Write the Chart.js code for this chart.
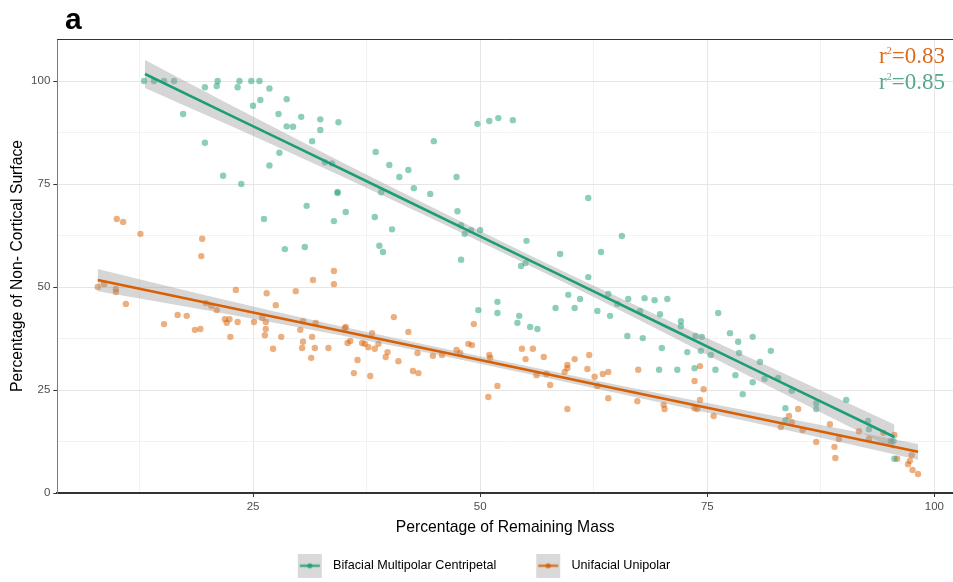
<!DOCTYPE html>
<html>
<head>
<meta charset="utf-8">
<script src="https://cdn.jsdelivr.net/npm/chart.js"></script>
<style>
  html, body { margin: 0; padding: 0; background: #fff; }
  #wrap { width: 953px; height: 582px; }
</style>
</head>
<body>
<div id="wrap"><canvas id="canvas"></canvas></div>
<script>
let bifacialX = [13.0, 14.1, 15.2, 16.3, 17.3, 19.7, 19.7, 21.0, 21.1, 21.7, 23.3, 23.5, 23.7, 24.8, 25.7, 25.0, 25.8, 26.8, 27.8, 28.7,
    28.7, 29.4, 30.3, 31.5, 27.9, 26.8, 32.4, 32.4, 34.4, 32.9, 33.7, 34.3, 34.3, 38.5, 40.0, 41.1, 42.1, 42.7, 44.5, 44.9,
    47.4, 49.7, 51.0, 52.0, 53.6, 61.9, 39.1, 30.9, 35.2, 33.9, 30.7, 38.4, 40.3, 38.9, 39.3, 47.5, 47.9, 48.3, 49.0, 50.0,
    47.9, 55.1, 54.5, 55.0, 58.8, 63.3, 61.9, 65.6, 64.1, 66.3, 65.1, 59.7, 61.0, 58.3, 60.4, 62.9, 64.3, 66.2, 49.8, 51.9,
    51.9, 54.3, 54.1, 55.5, 56.3, 68.1, 69.2, 70.6, 67.6, 69.8, 72.1, 72.1, 67.9, 70.0, 72.8, 73.7, 74.4, 74.3, 75.4, 76.2,
    77.5, 78.4, 78.5, 80.0, 82.0, 80.8, 69.7, 71.7, 73.6, 75.9, 78.1, 80.0, 81.3, 82.8, 78.9, 84.3, 83.6, 83.6, 87.0, 87.0,
    90.3, 92.7, 92.8, 95.2, 95.5, 95.6, 26.2, 28.5];
let bifacialY = [100, 100, 100, 100, 92, 85, 98.5, 98.8, 100, 77, 98.5, 100, 75, 100, 100, 94, 95.4, 98.2, 92, 95.6,
    89, 88.9, 91.3, 85.4, 82.6, 79.5, 90.7, 88.1, 90, 80.3, 80, 72.8, 73.1, 82.8, 79.6, 76.7, 78.4, 74, 72.6, 85.4,
    76.7, 89.6, 90.3, 91, 90.5, 71.6, 73, 69.7, 68.2, 66, 59.7, 67, 64, 60, 58.5, 68.4, 65, 62.9, 63.8, 63.8,
    56.6, 61.2, 55.1, 55.8, 58, 58.5, 52.4, 62.4, 48.3, 47.1, 45.9, 48.1, 47.1, 44.9, 44.9, 44.2, 43, 38.1, 44.4, 46.4,
    43.7, 43, 41.3, 40.3, 39.8, 47.3, 46.8, 47.1, 44.2, 43.4, 41.7, 40.5, 37.6, 35.2, 34.2, 38.1, 37.9, 34.5, 33.5, 43.7,
    38.8, 36.7, 34, 37.9, 34.5, 31.8, 29.9, 29.9, 30.3, 29.9, 28.6, 26.9, 27.7, 27.9, 24, 24.8, 20.6, 17.7, 21.8, 20.4,
    22.6, 17.5, 15.5, 12.6, 12.6, 8.3, 66.5, 59.2];

let unifacialX = [7.9, 8.6, 9.9, 9.9, 10.0, 10.7, 11.0, 12.6, 15.2, 16.7, 17.7, 18.6, 19.2, 19.4, 19.3, 19.8, 20.4, 21.0, 21.9, 22.4,
    22.1, 23.1, 23.3, 22.5, 25.1, 26.0, 26.4, 26.4, 26.3, 26.5, 27.5, 28.1, 27.2, 29.7, 30.2, 30.5, 30.5, 30.4, 31.5, 31.8,
    31.4, 31.6, 31.9, 33.3, 35.1, 35.2, 35.4, 35.7, 36.5, 36.1, 37.0, 37.3, 37.7, 38.1, 38.8, 38.4, 37.9, 39.8, 39.6, 41.0,
    40.5, 42.1, 42.6, 43.2, 43.1, 44.8, 45.8, 47.4, 47.8, 48.7, 49.1, 51.0, 51.1, 50.9, 51.9, 54.6, 55.8, 55.0, 57.0, 56.2,
    57.3, 57.7, 59.3, 59.6, 59.6, 60.4, 59.6, 62.0, 61.8, 62.6, 62.9, 63.5, 64.1, 64.1, 33.9, 33.9, 49.3, 67.4, 67.3, 70.2,
    70.3, 74.2, 73.6, 74.6, 74.2, 73.6, 73.9, 75.7, 83.1, 84.0, 84.3, 85.0, 85.5, 87.0, 88.5, 89.0, 89.1, 89.5, 91.7, 92.8,
    94.4, 95.6, 95.9, 97.1, 97.3, 97.5, 97.6, 98.2];
let unifacialY = [50, 50.7, 49.5, 48.8, 66.5, 65.8, 45.9, 62.9, 41, 43.2, 43, 39.6, 39.8, 61.7, 57.5, 46.1, 45.4, 44.4, 42.2, 42.2,
    41.3, 49.3, 41.5, 37.9, 41.5, 42.5, 41.5, 39.8, 38.3, 48.5, 45.6, 37.9, 35, 49, 39.6, 41.7, 36.7, 35.2, 37.9, 35.2,
    32.8, 51.7, 41.3, 35.2, 40, 40.3, 36.4, 36.9, 32.3, 29.1, 36.4, 36.2, 35.4, 38.8, 36.2, 35, 28.4, 34.2, 33, 32,
    42.7, 39.1, 29.6, 29.1, 34, 33.3, 33.5, 34.7, 34, 36.2, 35.9, 33.5, 32.8, 23.3, 26, 35, 35, 32.5, 33, 28.6,
    28.9, 26.2, 29.4, 31.1, 30.3, 32.5, 20.4, 33.5, 30.1, 28.2, 26, 28.9, 29.4, 23, 53.9, 50.7, 41, 29.9, 22.3, 21.4,
    20.4, 30.8, 27.2, 25.2, 22.6, 20.6, 20.4, 18.7, 16, 18.7, 17.2, 20.4, 15.3, 12.4, 16.7, 11.2, 8.5, 13.1, 15, 13.1,
    14.6, 14.1, 8.3, 7, 7.8, 9.2, 5.6, 4.6];

let bifacialFitX = [13.1, 22, 30, 40, 50, 60, 70, 80, 95.6];
let bifacialFit = [101.7, 92.2, 83.7, 73.0, 62.3, 51.6, 40.9, 30.2, 13.6];
let bifacialLow = [98.3, 89.6, 81.7, 71.5, 61.0, 50.3, 39.2, 27.9, 10.6];
let bifacialHigh = [105.1, 94.8, 85.7, 74.5, 63.6, 52.9, 42.6, 32.5, 16.6];

let unifacialFitX = [7.9, 20, 35, 50, 65, 80, 98.2];
let unifacialFit = [51.7, 46.1, 39.2, 32.3, 25.3, 18.4, 10.0];
let unifacialLow = [49.0, 44.3, 38.1, 31.4, 24.3, 17.1, 8.1];
let unifacialHigh = [54.4, 47.9, 40.3, 33.2, 26.3, 19.7, 11.9];

let seriesNames = ["Bifacial Multipolar Centripetal", "Unifacial Unipolar"];
let r2Values = ["0.85", "0.83"];
let xTicks = [25, 50, 75, 100];
let yTicks = [0, 25, 50, 75, 100];

let green = "#1B9E77";
let orange = "#D95F02";
let bandColor = "rgba(153,153,153,0.4)";

function pts(xs, ys) {
    return xs.map((x, i) => ({x: x, y: ys[i]}));
}

function legendKey(color) {
    let c = document.createElement("canvas");
    c.width = 44;
    c.height = 24;
    let g = c.getContext("2d");
    g.fillStyle = "#d9d9d9";
    g.fillRect(15, 0, 24, 24);
    g.globalAlpha = 0.8;
    g.strokeStyle = color;
    g.lineWidth = 2.5;
    g.beginPath();
    g.moveTo(17, 12);
    g.lineTo(37, 12);
    g.stroke();
    g.fillStyle = color;
    g.beginPath();
    g.arc(27, 12, 2.6, 0, Math.PI * 2);
    g.fill();
    return c;
}

function drawR2(ctx, value, right, baseline, color) {
    ctx.fillStyle = color;
    ctx.textAlign = "left";
    ctx.textBaseline = "alphabetic";
    let big = '23px "Liberation Serif", "Times New Roman", serif';
    let small = '10px "Liberation Serif", "Times New Roman", serif';
    ctx.font = big;
    let rest = "=" + value;
    let wRest = ctx.measureText(rest).width;
    let wR = ctx.measureText("r").width;
    ctx.font = small;
    let w2 = ctx.measureText("2").width;
    let x0 = right - wRest - w2 - wR;
    ctx.font = big;
    ctx.fillText("r", x0, baseline);
    ctx.font = small;
    ctx.fillText("2", x0 + wR, baseline - 9);
    ctx.font = big;
    ctx.fillText(rest, x0 + wR + w2, baseline);
}

let annotate = {
    id: "annotate",
    afterDraw(chart) {
        let ctx = chart.ctx;
        let a = chart.chartArea;
        ctx.save();
        ctx.strokeStyle = "#333333";
        ctx.lineWidth = 1;
        ctx.beginPath();
        ctx.moveTo(a.left, a.top + 0.5);
        ctx.lineTo(a.right, a.top + 0.5);
        ctx.stroke();
        ctx.fillStyle = "#000";
        ctx.font = 'bold 30px "Liberation Sans", Arial, sans-serif';
        ctx.textAlign = "left";
        ctx.textBaseline = "alphabetic";
        ctx.fillText("a", 65, 29);
        drawR2(ctx, r2Values[1], 945, 63, "#dd6a1e");
        drawR2(ctx, r2Values[0], 945, 89, "#58a68b");
        ctx.restore();
    }
};

Chart.defaults.font.family = '"Liberation Sans", Arial, sans-serif';
Chart.defaults.color = "#4d4d4d";

let gridColor = (c) => (c.tick && c.tick.value % 25 === 0) ? "#e6e6e6" : "#f2f2f2";
let tickColor = (c) => (c.tick && c.tick.value % 25 === 0) ? "#333333" : "rgba(0,0,0,0)";

let marksCanvas = document.getElementById("canvas");

let chart = new Chart(marksCanvas, {
    type: "line",
    data: {
        datasets: [{
            label: seriesNames[0] + " fit",
            data: pts(bifacialFitX, bifacialFit),
            borderColor: green,
            borderWidth: 2.6,
            pointRadius: 0,
            fill: false,
            order: 0
        }, {
            label: seriesNames[1] + " fit",
            data: pts(unifacialFitX, unifacialFit),
            borderColor: orange,
            borderWidth: 2.6,
            pointRadius: 0,
            fill: false,
            order: 0
        }, {
            label: "band1 high",
            data: pts(bifacialFitX, bifacialHigh),
            borderWidth: 0,
            borderColor: "rgba(0,0,0,0)",
            backgroundColor: bandColor,
            pointRadius: 0,
            cubicInterpolationMode: "monotone",
            fill: "+1",
            order: 1
        }, {
            label: "band1 low",
            data: pts(bifacialFitX, bifacialLow),
            borderWidth: 0,
            borderColor: "rgba(0,0,0,0)",
            pointRadius: 0,
            cubicInterpolationMode: "monotone",
            fill: false,
            order: 1
        }, {
            label: "band2 high",
            data: pts(unifacialFitX, unifacialHigh),
            borderWidth: 0,
            borderColor: "rgba(0,0,0,0)",
            backgroundColor: bandColor,
            pointRadius: 0,
            cubicInterpolationMode: "monotone",
            fill: "+1",
            order: 1
        }, {
            label: "band2 low",
            data: pts(unifacialFitX, unifacialLow),
            borderWidth: 0,
            borderColor: "rgba(0,0,0,0)",
            pointRadius: 0,
            cubicInterpolationMode: "monotone",
            fill: false,
            order: 1
        }, {
            label: seriesNames[0],
            data: pts(bifacialX, bifacialY),
            showLine: false,
            pointRadius: 3.2,
            pointBorderWidth: 0,
            pointBackgroundColor: "rgba(27,158,119,0.5)",
            order: 2
        }, {
            label: seriesNames[1],
            data: pts(unifacialX, unifacialY),
            showLine: false,
            pointRadius: 3.2,
            pointBorderWidth: 0,
            pointBackgroundColor: "rgba(217,95,2,0.5)",
            order: 2
        }]
    },
    options: {
        responsive: true,
        maintainAspectRatio: false,
        animation: false,
        devicePixelRatio: 1,
        layout: {autoPadding: false, padding: {top: 39, left: 0, right: 0, bottom: 0}},
        plugins: {
            tooltip: {enabled: false},
            legend: {
                position: "bottom",
                labels: {
                    usePointStyle: true,
                    pointStyleWidth: 44,
                    padding: 25,
                    color: "#1a1a1a",
                    font: {size: 12.6},
                    generateLabels: () => [
                        {text: seriesNames[0], pointStyle: legendKey(green), fillStyle: green, strokeStyle: "rgba(0,0,0,0)", lineWidth: 0, hidden: false, datasetIndex: 6},
                        {text: seriesNames[1], pointStyle: legendKey(orange), fillStyle: orange, strokeStyle: "rgba(0,0,0,0)", lineWidth: 0, hidden: false, datasetIndex: 7}
                    ]
                }
            }
        },
        scales: {
            x: {
                type: "linear",
                min: 3.45,
                max: 102.05,
                afterFit: (s) => { s.height = 41.4; s.paddingLeft = 0; s.paddingRight = 0; },
                ticks: {
                    stepSize: 12.5,
                    includeBounds: false,
                    autoSkip: false,
                    maxRotation: 0,
                    padding: 3,
                    font: {size: 11.5},
                    color: "#4d4d4d",
                    callback: (v) => xTicks.includes(v) ? String(v) : ""
                },
                grid: {color: gridColor, tickColor: tickColor, tickLength: 4, lineWidth: 1},
                border: {color: "#333333", width: 2},
                title: {
                    display: true,
                    text: "Percentage of Remaining Mass",
                    color: "#000",
                    font: {size: 15.7, lineHeight: 1},
                    padding: {top: 0, bottom: -1.5}
                }
            },
            y: {
                type: "linear",
                min: 0,
                max: 110.2,
                afterFit: (s) => { s.width = 57.3; s.paddingTop = 0; s.paddingBottom = 0; },
                ticks: {
                    stepSize: 12.5,
                    includeBounds: false,
                    autoSkip: false,
                    padding: 3,
                    font: {size: 11.5},
                    color: "#4d4d4d",
                    callback: (v) => yTicks.includes(v) ? String(v) : ""
                },
                grid: {color: gridColor, tickColor: tickColor, tickLength: 4, lineWidth: 1},
                border: {color: "#7a7a7a", width: 1},
                title: {
                    display: true,
                    text: "Percentage of Non- Cortical Surface",
                    color: "#000",
                    font: {size: 15.7, lineHeight: 1},
                    padding: {top: 9.5, bottom: 0}
                }
            }
        }
    },
    plugins: [annotate]
});
</script>
</body>
</html>
